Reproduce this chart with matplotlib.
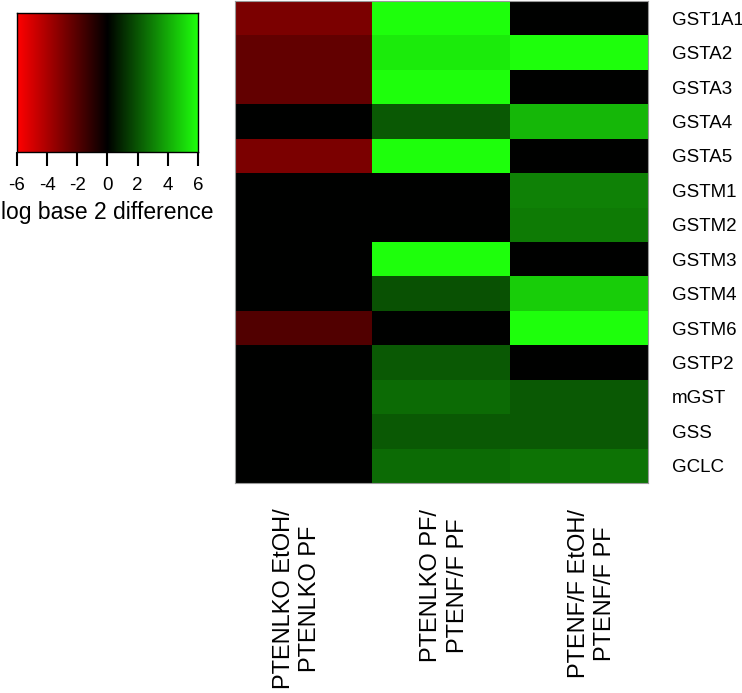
import numpy as np
import matplotlib
matplotlib.use("Agg")
import matplotlib.pyplot as plt
from matplotlib.colors import LinearSegmentedColormap
from matplotlib.transforms import ScaledTranslation

plt.rcParams['font.family'] = ['Liberation Sans', 'DejaVu Sans']

genes = ["GST1A1", "GSTA2", "GSTA3", "GSTA4", "GSTA5", "GSTM1", "GSTM2",
         "GSTM3", "GSTM4", "GSTM6", "GSTP2", "mGST", "GSS", "GCLC"]
comparisons = ["PTENLKO EtOH/\nPTENLKO PF", "PTENLKO PF/\nPTENF/F PF",
               "PTENF/F EtOH/\nPTENF/F PF"]

col_ko_etoh = [-2.9, -2.3, -2.3, 0.0, -2.9, 0.0, 0.0, 0.0, 0.0, -1.9, 0.0, 0.0, 0.0, 0.0]
col_ko_vs_ff = [6.0, 5.5, 6.0, 2.1, 6.0, 0.0, 0.0, 6.0, 1.9, 0.0, 2.1, 2.5, 2.1, 2.5]
col_ff_etoh = [0.0, 6.0, 0.0, 4.3, 0.0, 3.0, 2.9, 0.0, 4.8, 6.0, 0.0, 2.1, 2.1, 2.7]

cbar_ticks = [-6, -4, -2, 0, 2, 4, 6]
vmin, vmax = -6, 6

cmap = LinearSegmentedColormap.from_list("rg", ["#ff0000", "#000000", "#1eff0c"])

data = np.array([col_ko_etoh, col_ko_vs_ff, col_ff_etoh]).T

fig = plt.figure(figsize=(7.42, 6.93), dpi=100)

ax = fig.add_axes([0.3167, 0.3030, 0.5566, 0.6955])
ax.imshow(data, cmap=cmap, vmin=vmin, vmax=vmax, aspect='auto', interpolation='nearest')
ax.set_yticks(range(len(genes)))
ax.set_yticklabels(genes, fontsize=13.5)
ax.yaxis.tick_right()
ax.tick_params(axis='y', length=0, pad=17)
ax.set_xticks(range(len(comparisons)))
ax.set_xticklabels(comparisons, fontsize=17, rotation=90, va='top', ha='center',
                   multialignment='center', linespacing=1.25)
ax.tick_params(axis='x', length=0, pad=18.5)
for i, lab in enumerate(ax.get_xticklabels()):
    dx = ((i - 1) * 10 + 3) / fig.dpi
    lab.set_transform(lab.get_transform() + ScaledTranslation(dx, 0, fig.dpi_scale_trans))
for s in ax.spines.values():
    s.set_color('#999999')
    s.set_linewidth(0.8)

cax = fig.add_axes([0.0229, 0.7807, 0.2439, 0.2006])
grad = np.linspace(vmin, vmax, 256).reshape(1, -1)
cax.imshow(grad, cmap=cmap, vmin=vmin, vmax=vmax, aspect='auto',
           extent=[vmin, vmax, 0, 1])
cax.set_yticks([])
cax.set_xticks(cbar_ticks)
cax.set_xticklabels([str(t) for t in cbar_ticks], fontsize=13.5)
cax.tick_params(axis='x', length=10, width=1.5, pad=8)
cax.set_xlabel("log base 2 difference", fontsize=16.5, labelpad=5)
for s in cax.spines.values():
    s.set_linewidth(1.0)

fig.savefig("out.png", dpi=100)
